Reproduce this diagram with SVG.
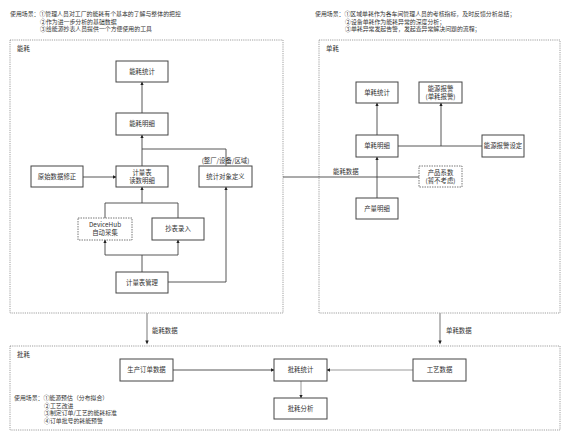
<svg xmlns="http://www.w3.org/2000/svg" width="576" height="439" viewBox="0 0 576 439">
<style>
text{font-family:"Noto Sans CJK SC","Liberation Sans",sans-serif;font-size:6.4px;fill:#333}
.n{font-size:5.9px}
.c{text-anchor:middle}
.box{fill:#fff;stroke:#444;stroke-width:1}
.dbox{fill:#fff;stroke:#555;stroke-width:0.8;stroke-dasharray:1.5 1}
.panel{fill:none;stroke:#777;stroke-width:0.7;stroke-dasharray:1.2 1}
.ln{fill:none;stroke:#444;stroke-width:0.9}
.gl{fill:none;stroke:#999;stroke-width:1}
.big{fill:none;stroke:#aaa;stroke-width:1.6}
</style>
<defs>
<marker id="a" viewBox="0 0 6 6" refX="5.5" refY="3" markerWidth="3.5" markerHeight="3.5" orient="auto" markerUnits="userSpaceOnUse"><path d="M0,0L6,3L0,6z" fill="#222"/></marker>
</defs>
<rect width="576" height="439" fill="#fff"/>

<g id="notes">
<text class="n" x="10" y="16">使用场景：①管理人员对工厂的能耗有个基本的了解与整体的把控</text>
<text class="n" x="40" y="23.5">②作为进一步分析的基础数据</text>
<text class="n" x="40" y="31">③给能源抄表人员提供一个方便使用的工具</text>
<text class="n" x="315" y="16">使用场景：①区域单耗作为各车间管理人员的考核指标，及时反馈分析总结；</text>
<text class="n" x="345" y="23.5">②设备单耗作为能耗异常的深度分析；</text>
<text class="n" x="345" y="31">③单耗异常发起告警，发起查异常解决问题的流程；</text>
<text class="n" x="14" y="400">使用场景：①能源预估（分布拟合）</text>
<text class="n" x="44" y="407.5">②工艺改进</text>
<text class="n" x="44" y="415">③制定订单/工艺的能耗标准</text>
<text class="n" x="44" y="422.5">④订单批号的耗能预警</text>
</g>

<g id="panels">
<rect class="panel" x="10" y="40" width="273" height="273"/>
<text x="17" y="51">能耗</text>
<rect class="panel" x="319" y="40" width="241" height="273"/>
<text x="326" y="51">单耗</text>
<rect class="panel" x="10" y="346" width="550" height="84"/>
<text x="17" y="357">批耗</text>
</g>

<g id="connectors">
<path class="ln" d="M142,113V82" marker-end="url(#a)"/>
<path class="ln" d="M142,166V135" marker-end="url(#a)"/>
<path class="ln" d="M226,166V149H142"/>
<path class="ln" d="M83,177H116" marker-end="url(#a)"/>
<path class="ln" d="M105,218V203H178V218"/>
<path class="ln" d="M142,203V187" marker-end="url(#a)"/>
<path class="ln" d="M142,272V255"/>
<path class="ln" d="M105,255H178"/>
<path class="ln" d="M105,255V240" marker-end="url(#a)"/>
<path class="ln" d="M178,255V240" marker-end="url(#a)"/>
<path class="ln" d="M168,282H226V187" marker-end="url(#a)"/>
<path class="ln" d="M283,177H419"/>
<path class="ln" d="M377,135V103" marker-end="url(#a)"/>
<path class="ln" d="M398,146H482"/>
<path class="ln" d="M441,146V103" marker-end="url(#a)"/>
<path class="ln" d="M377,198V157" marker-end="url(#a)"/>
<path class="big" d="M147,313V343"/>
<path d="M145.3,340.5L147,344.5L148.7,340.5z" fill="#222"/>
<path class="big" d="M440,313V343"/>
<path d="M438.3,340.5L440,344.5L441.7,340.5z" fill="#222"/>
<path class="ln" d="M173,370H274" marker-end="url(#a)"/>
<path class="gl" d="M413,370H327" marker-end="url(#a)"/>
<path class="gl" d="M301,381V398" marker-end="url(#a)"/>
<text x="333" y="174">能耗数据</text>
<text x="152" y="333">能耗数据</text>
<text x="446" y="333">单耗数据</text>
</g>

<g id="n1"><rect class="box" x="116" y="61" width="52" height="21"/><text class="c" x="142" y="74">能耗统计</text></g>
<g id="n2"><rect class="box" x="116" y="113" width="52" height="22"/><text class="c" x="142" y="126">能耗明细</text></g>
<g id="n3"><rect class="box" x="31" y="166" width="52" height="21"/><text class="c" x="57" y="179">原始数据修正</text></g>
<g id="n4"><rect class="box" x="116" y="166" width="52" height="21"/><text class="c" x="142" y="175">计量表</text><text class="c" x="142" y="182.5">读数明细</text></g>
<g id="n5"><rect class="box" x="199" y="166" width="53" height="21"/><text class="c" x="225.5" y="179">统计对象定义</text><text class="c" x="225.5" y="163">(整厂/设备/区域)</text></g>
<g id="n6"><rect class="dbox" x="78" y="218" width="54" height="22"/><text class="c" x="105" y="227">DeviceHub</text><text class="c" x="105" y="234.5">自动采集</text></g>
<g id="n7"><rect class="box" x="152" y="218" width="52" height="22"/><text class="c" x="178" y="231">抄表录入</text></g>
<g id="n8"><rect class="box" x="116" y="272" width="52" height="21"/><text class="c" x="142" y="285">计量表管理</text></g>

<g id="m1"><rect class="box" x="356" y="82" width="42" height="21"/><text class="c" x="377" y="95">单耗统计</text></g>
<g id="m2"><rect class="box" x="419" y="82" width="43" height="21"/><text class="c" x="440.5" y="91">能源报警</text><text class="c" x="440.5" y="98.5">(单耗报警)</text></g>
<g id="m3"><rect class="box" x="356" y="135" width="42" height="22"/><text class="c" x="377" y="148">单耗明细</text></g>
<g id="m4"><rect class="box" x="482" y="135" width="42" height="22"/><text class="c" x="503" y="148">能源报警设定</text></g>
<g id="m5"><rect class="dbox" x="419" y="166" width="43" height="21"/><text class="c" x="440.5" y="175">产品系数</text><text class="c" x="440.5" y="182.5">(暂不考虑)</text></g>
<g id="m6"><rect class="box" x="356" y="198" width="42" height="21"/><text class="c" x="377" y="211">产量明细</text></g>

<g id="b1"><rect class="box" x="120" y="359" width="53" height="22"/><text class="c" x="146.5" y="372">生产订单数据</text></g>
<g id="b2"><rect class="box" x="274" y="359" width="53" height="22"/><text class="c" x="300.5" y="372">批耗统计</text></g>
<g id="b3"><rect class="box" x="413" y="359" width="53" height="22"/><text class="c" x="439.5" y="372">工艺数据</text></g>
<g id="b4"><rect class="box" x="274" y="398" width="53" height="21"/><text class="c" x="300.5" y="411">批耗分析</text></g>
</svg>
